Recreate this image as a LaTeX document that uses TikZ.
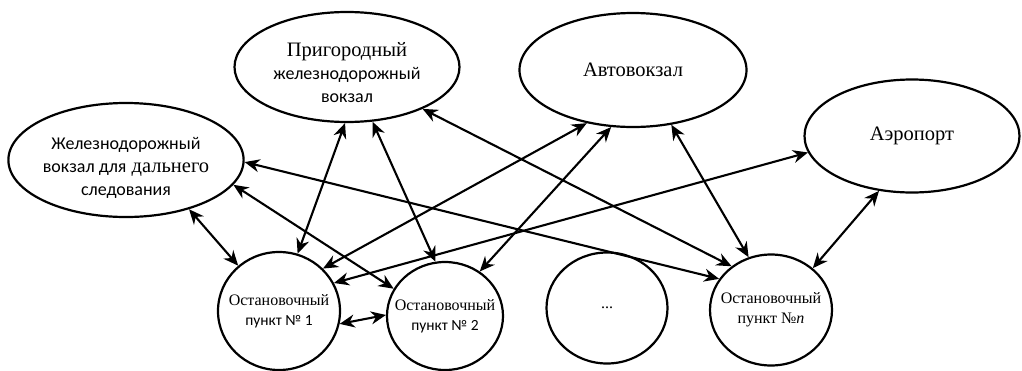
\documentclass[tikz,border=0pt]{standalone}
\usepackage{fontspec}
\setmainfont{Liberation Serif}
\newfontfamily\calibrisans{Carlito}
\newcommand{\bigsans}{\calibrisans\fontsize{18}{23}\selectfont}
\usetikzlibrary{shapes.geometric,arrows.meta}

\begin{document}
\begin{tikzpicture}[x=1pt, y=-1pt,
    station/.style={ellipse, draw, line width=2.2pt, inner sep=0pt, align=center,
      font=\fontsize{20.5}{23}\selectfont},
    stop/.style={station, inner xsep=-12pt, font=\fontsize{16}{20}\selectfont},
    link/.style={{Stealth[length=15pt,width=13pt]}-{Stealth[length=15pt,width=13pt]},
      line width=2.1pt}]
  \useasboundingbox (0,0) rectangle (1022,370);
  % vokzaly
  \node[station, minimum width=232, minimum height=114] (longrail) at (126,160)
    {\raisebox{-13pt}[36pt][36pt]{\begin{tabular}{@{}c@{}}
      {\bigsans Железнодорожный}\\{\bigsans вокзал для} дальнего\\{\bigsans следования}
    \end{tabular}}};
  \node[station, minimum width=225, minimum height=110] (suburb) at (347,67)
    {\raisebox{-13pt}[36pt][36pt]{\begin{tabular}{@{}c@{}}
      Пригородный\\{\bigsans железнодорожный}\\{\bigsans вокзал}
    \end{tabular}}};
  \node[station, minimum width=227, minimum height=114] (bus) at (633,70) {Автовокзал};
  \node[station, minimum width=215, minimum height=113] (airport) at (912,136) {Аэропорт};
  % ostanovki
  \node[stop, minimum width=122, minimum height=118] (stopa) at (279,311)
    {Остановочный\\{\calibrisans\fontsize{15.5}{20}\selectfont пункт №~1}};
  \node[stop, minimum width=116, minimum height=108] (stopb) at (445,316)
    {Остановочный\\{\calibrisans\fontsize{15.5}{20}\selectfont пункт №~2}};
  \node[stop, minimum width=121, minimum height=111] (stopdots) at (607,308) {...};
  \node[stop, minimum width=122, minimum height=111] (stopn) at (771,310)
    {Остановочный\\пункт №\textit{n}};
  % svyazi
  \draw[link] (longrail.-38) -- (stopa.132);
  \draw[link] (longrail.-13) -- (stopb.152);
  \draw[link] (longrail.-1) -- (stopn.149);
  \draw[link] (suburb.-92) -- (stopa.72);
  \draw[link] (suburb.-65) -- (stopb.100);
  \draw[link] (suburb.-29) -- (stopn.132);
  \draw[link] (bus.-131) -- (stopa.44);
  \draw[link] (bus.-111) -- (stopb.52);
  \draw[link] (bus.-55) -- (stopn.113);
  \draw[link] (airport.-171) -- (stopa.27);
  \draw[link] (airport.-121) -- (stopn.45);
  \draw[link] (stopa.-12) -- (stopb.179);
\end{tikzpicture}
\end{document}
